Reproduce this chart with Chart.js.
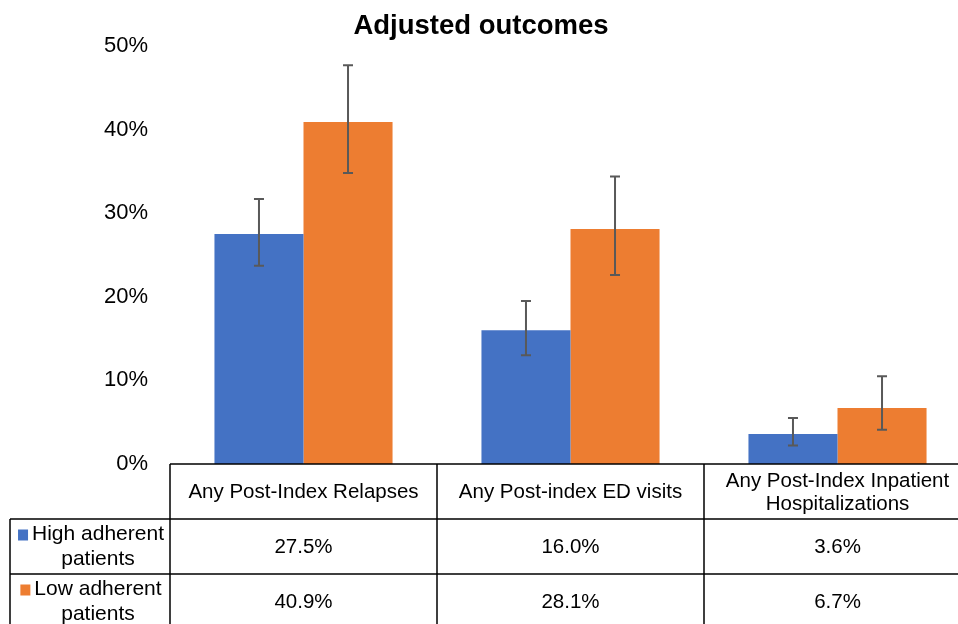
<!DOCTYPE html>
<html>
<head>
<meta charset="utf-8">
<script src="https://cdn.jsdelivr.net/npm/chart.js@4/dist/chart.umd.min.js"></script>
<style>
  html, body { margin: 0; padding: 0; background: #fff; overflow: hidden; }
  .wrap { position: relative; width: 972px; height: 624px; }
</style>
</head>
<body>
<div class="wrap"><canvas id="myChart"></canvas></div>
<script>
// chart data
const chartTitle = 'Adjusted outcomes';
const categories = ['Any Post-Index Relapses', 'Any Post-index ED visits', ['Any Post-Index Inpatient', 'Hospitalizations']];
const seriesNames = [['High adherent', 'patients'], ['Low adherent', 'patients']];
const highValues = [27.5, 16.0, 3.6];
const lowValues = [40.9, 28.1, 6.7];
// error bar ends
const highErrLow = [23.7, 13.0, 2.2];
const highErrHigh = [31.7, 19.5, 5.5];
const lowErrLow = [34.8, 22.6, 4.1];
const lowErrHigh = [47.7, 34.4, 10.5];
const tableValues = [['27.5%', '16.0%', '3.6%'], ['40.9%', '28.1%', '6.7%']];

const blue = '#4472C4';
const orange = '#ED7D31';
const fontFam = '"Liberation Sans", Arial, sans-serif';

// draws the error bars on top of the bars
const errorBars = {
    id: 'errorBars',
    afterDatasetsDraw(chart) {
        const ctx = chart.ctx;
        const y = chart.scales.y;
        const lows = [highErrLow, lowErrLow];
        const highs = [highErrHigh, lowErrHigh];
        ctx.save();
        ctx.strokeStyle = '#595959';
        ctx.lineWidth = 2;
        chart.data.datasets.forEach((ds, i) => {
            let meta = chart.getDatasetMeta(i);
            meta.data.forEach((bar, j) => {
                let y1 = y.getPixelForValue(lows[i][j]);
                let y2 = y.getPixelForValue(highs[i][j]);
                ctx.beginPath();
                ctx.moveTo(bar.x, y1);
                ctx.lineTo(bar.x, y2);
                ctx.moveTo(bar.x - 5, y1);
                ctx.lineTo(bar.x + 5, y1);
                ctx.moveTo(bar.x - 5, y2);
                ctx.lineTo(bar.x + 5, y2);
                ctx.stroke();
            });
        });
        ctx.restore();
    }
};

// title and data table under the chart
const dataTable = {
    id: 'dataTable',
    afterDraw(chart) {
        const ctx = chart.ctx;
        const area = chart.chartArea;
        const x = chart.scales.x;
        const colW = (area.right - area.left) / categories.length;
        const top = area.bottom;
        const rowH = 55;
        const legL = 10;
        ctx.save();

        // title
        ctx.fillStyle = '#000';
        ctx.font = 'bold 27.5px ' + fontFam;
        ctx.textAlign = 'center';
        ctx.textBaseline = 'middle';
        ctx.fillText(chartTitle, 481, 26);

        // lines
        ctx.strokeStyle = '#000';
        ctx.lineWidth = 1.5;
        ctx.beginPath();
        ctx.moveTo(area.left, top);
        ctx.lineTo(area.right, top);
        for (let r = 1; r <= 2; r++) {
            ctx.moveTo(legL, top + rowH * r);
            ctx.lineTo(area.right, top + rowH * r);
        }
        ctx.moveTo(legL, top + rowH);
        ctx.lineTo(legL, top + rowH * 3);
        for (let c = 0; c <= categories.length; c++) {
            ctx.moveTo(area.left + colW * c, top);
            ctx.lineTo(area.left + colW * c, top + rowH * 3);
        }
        ctx.stroke();

        // header
        ctx.font = '20.5px ' + fontFam;
        categories.forEach((cat, i) => {
            let cx = x.getPixelForValue(i);
            let lines = Array.isArray(cat) ? cat : [cat];
            let lh = 23;
            let y0 = top + rowH / 2 + 1 - (lines.length - 1) * lh / 2;
            lines.forEach((t, k) => ctx.fillText(t, cx, y0 + k * lh));
        });

        // values
        tableValues.forEach((row, r) => {
            row.forEach((v, i) => {
                ctx.fillText(v, x.getPixelForValue(i), top + rowH * (r + 1) + rowH / 2 + 1);
            });
        });

        // legend cells
        const colors = [blue, orange];
        ctx.font = '21px ' + fontFam;
        seriesNames.forEach((name, r) => {
            let cy = top + rowH * (r + 1) + rowH / 2;
            let textL = 33;
            let textR = 163;
            let cx = (textL + textR) / 2;
            ctx.fillStyle = '#000';
            ctx.fillText(name[0], cx, cy - 12);
            ctx.fillText(name[1], cx, cy + 13);
            let w = ctx.measureText(name[0]).width;
            ctx.fillStyle = colors[r];
            ctx.fillRect(cx - w / 2 - 14, cy - 17, 10, 11);
        });
        ctx.restore();
    }
};

const config = {
    type: 'bar',
    data: {
        labels: categories,
        datasets: [
            {
                label: seriesNames[0].join(' '),
                backgroundColor: blue,
                data: highValues,
                categoryPercentage: 0.667,
                barPercentage: 1.0
            },
            {
                label: seriesNames[1].join(' '),
                backgroundColor: orange,
                data: lowValues,
                categoryPercentage: 0.667,
                barPercentage: 1.0
            }
        ]
    },
    options: {
        responsive: true,
        maintainAspectRatio: false,
        animation: false,
        layout: {
            padding: { top: 46, bottom: 160, left: 0, right: 1 }
        },
        plugins: {
            legend: { display: false },
            title: { display: false },
            tooltip: { enabled: false }
        },
        scales: {
            x: {
                display: false
            },
            y: {
                min: 0,
                max: 50,
                border: { display: false },
                grid: { display: false, drawTicks: false },
                ticks: {
                    stepSize: 10,
                    padding: 22,
                    color: '#000',
                    font: { size: 22, family: fontFam },
                    callback: v => v + '%'
                },
                afterFit(axis) { axis.width = 170; }
            }
        }
    },
    plugins: [errorBars, dataTable]
};

let myChart = new Chart(document.getElementById('myChart'), config);
</script>
</body>
</html>
